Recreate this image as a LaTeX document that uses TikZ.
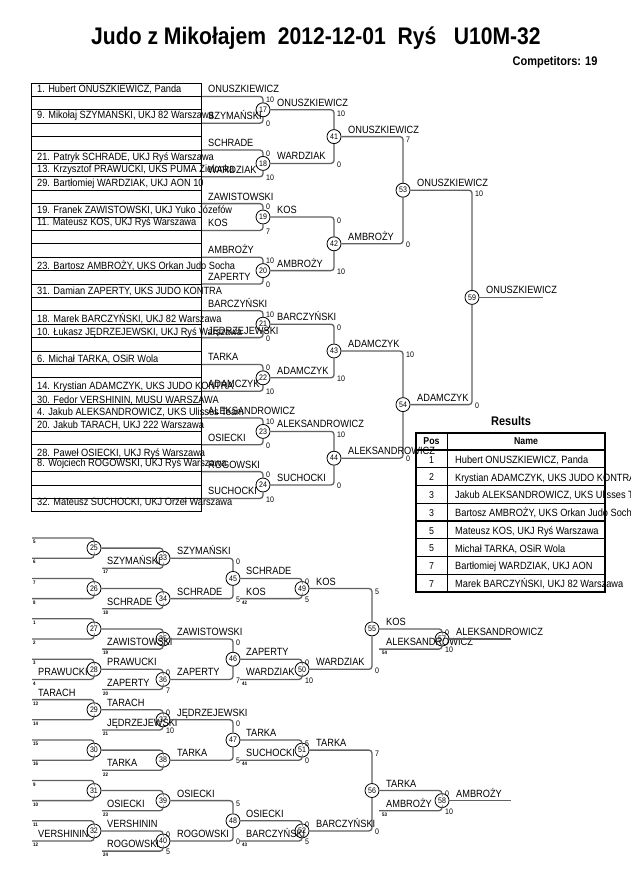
\documentclass[tikz,border=0pt]{standalone}
\usepackage{fontspec}
\setmainfont{Liberation Sans}[FakeStretch=0.88]
\usetikzlibrary{calc}
\tikzset{
  bline/.style={draw=black!62,line width=1.3pt,rounded corners=3pt},
  match/.style={circle,draw,line width=0.8pt,minimum size=14pt,inner sep=0pt,font=\fontsize{8}{9}\selectfont},
  lbl/.style={anchor=base west,inner sep=0pt,font=\fontsize{10.5}{12}\selectfont},
  score/.style={anchor=north west,inner sep=0pt,font=\fontsize{8}{9}\selectfont},
  bscore/.style={score,anchor=west},
  tiny/.style={anchor=north west,inner sep=0pt,font=\bfseries\fontsize{5}{6}\selectfont},
  rowline/.style={line width=1pt}
}
\begin{document}
\begin{tikzpicture}[x=1pt,y=-1pt]
  \useasboundingbox (0,0) rectangle (630,891);

  % heading
  \node[font=\bfseries\fontsize{24}{28}\selectfont] (title) at (316,38) {Judo z Mikołajem~~2012-12-01~~Ryś~~~U10M-32};
  \node[anchor=east,font=\bfseries\fontsize{12.5}{14}\selectfont] (count) at (601,62) {Competitors: 19};

  % list of competitors
  \draw[rowline] (31,83) rectangle (201,511.8);
  \foreach \i in {1,...,31}
    \draw[rowline] (31,83+13.4*\i) -- (201,83+13.4*\i);
  \foreach \y/\t [count=\n] in {92.8/{1. Hubert ONUSZKIEWICZ, Panda}, 118.8/{9. Mikołaj SZYMAŃSKI, UKJ 82 Warszawa},
      160.8/{21. Patryk SCHRADE, UKJ Ryś Warszawa}, 172.8/{13. Krzysztof PRAWUCKI, UKS PUMA Zielonka},
      186.8/{29. Bartłomiej WARDZIAK, UKJ AON 10}, 213.8/{19. Franek ZAWISTOWSKI, UKJ Yuko Józefów},
      225.8/{11. Mateusz KOS, UKJ Ryś Warszawa}, 269.8/{23. Bartosz AMBROŻY, UKS Orkan Judo Socha},
      294.8/{31. Damian ZAPERTY, UKS JUDO KONTRA}, 322.8/{18. Marek BARCZYŃSKI, UKJ 82 Warszawa},
      335.8/{10. Łukasz JĘDRZEJEWSKI, UKJ Ryś Warszawa}, 362.8/{6. Michał TARKA, OSiR Wola},
      389.8/{14. Krystian ADAMCZYK, UKS JUDO KONTRA}, 403.8/{30. Fedor VERSHININ, MUSU WARSZAWA},
      415.8/{4. Jakub ALEKSANDROWICZ, UKS Ulisses Team}, 428.8/{20. Jakub TARACH, UKJ 222 Warszawa},
      456.8/{28. Paweł OSIECKI, UKJ Ryś Warszawa}, 466.8/{8. Wojciech ROGOWSKI, UKJ Ryś Warszawa},
      505.8/{32. Mateusz SUCHOCKI, UKJ Orzeł Warszawa}}
    \node[lbl] (p\n) at (37,\y) {\t};

  % match circles
  \foreach \m/\x/\y in {17/263/109.8, 18/263/163.4, 19/263/217, 20/263/270.6, 21/263/324.2, 22/263/377.8,
      23/263/431.4, 24/263/485, 41/334/136.6, 42/334/243.8, 43/334/351, 44/334/458.2,
      53/403/190.2, 54/403/404.6, 59/472/297.4,
      25/94/548.1, 26/94/588.5, 27/94/628.9, 28/94/669.3, 29/94/709.7, 30/94/750.1, 31/94/790.5, 32/94/830.9,
      33/163/558.2, 34/163/598.6, 35/163/639, 36/163/679.4, 37/163/719.8, 38/163/760.2, 39/163/800.6, 40/163/841,
      45/233/578.4, 46/233/659.2, 47/233/740, 48/233/820.8,
      49/302/588.5, 50/302/669.3, 51/302/750.1, 52/302/830.9,
      55/372/628.9, 56/372/790.5, 57/442/639, 58/442/800.6}
    \node[match] (m\m) at (\x,\y) {\m};

  % first round
  \foreach \m/\na/\sa/\nb/\sb in {17/ONUSZKIEWICZ/10/SZYMAŃSKI/0, 18/SCHRADE/0/WARDZIAK/10,
      19/ZAWISTOWSKI/0/KOS/7, 20/AMBROŻY/10/ZAPERTY/0, 21/BARCZYŃSKI/10/JĘDRZEJEWSKI/0,
      22/TARKA/0/ADAMCZYK/10, 23/ALEKSANDROWICZ/10/OSIECKI/0, 24/ROGOWSKI/0/SUCHOCKI/10} {
    \coordinate (e\m a) at ($(m\m)+(-61,-13.4)$);
    \coordinate (e\m b) at ($(m\m)+(-61,13.4)$);
    \draw[bline] (e\m a) -| (m\m);
    \draw[bline] (e\m b) -| (m\m);
    \node[lbl] (n\m a) at ($(e\m a)+(6,-3.5)$) {\na};
    \node[lbl] (n\m b) at ($(e\m b)+(6,-3.5)$) {\nb};
    \node[score] (s\m a) at ($(m\m |- e\m a)+(3,0.5)$) {\sa};
    \node[bscore] (s\m b) at ($(m\m |- e\m b)+(3,1)$) {\sb};
  }

  % repechage, first round
  \foreach \m/\ta/\tb/\na/\nb in {25/5/6/{}/{}, 26/7/8/{}/{}, 27/1/2/{}/{}, 28/3/4/{}/PRAWUCKI,
      29/13/14/TARACH/{}, 30/15/16/{}/{}, 31/9/10/{}/{}, 32/11/12/{}/VERSHININ} {
    \coordinate (e\m a) at ($(m\m)+(-62,-10.1)$);
    \coordinate (e\m b) at ($(m\m)+(-62,10.1)$);
    \draw[bline] (e\m a) -| (m\m);
    \draw[bline] (e\m b) -| (m\m);
    \node[lbl] (n\m a) at ($(e\m a)+(6,-3.5)$) {\na};
    \node[lbl] (n\m b) at ($(e\m b)+(6,-3.5)$) {\nb};
    \node[tiny] (t\m a) at ($(e\m a)+(1,2)$) {\ta};
    \node[tiny] (t\m b) at ($(e\m b)+(1,2)$) {\tb};
  }

  % one line from a match, one coming in
  \foreach \m/\a/\dx/\na/\sa/\nb/\sb/\t in {33/25/-61/{}/{}/SZYMAŃSKI/{}/17, 34/26/-61/{}/{}/SCHRADE/{}/18,
      35/27/-61/{}/{}/ZAWISTOWSKI/{}/19, 36/28/-61/PRAWUCKI/0/ZAPERTY/7/20,
      37/29/-61/TARACH/0/JĘDRZEJEWSKI/10/21, 38/30/-61/{}/{}/TARKA/{}/22,
      39/31/-61/{}/{}/OSIECKI/{}/23, 40/32/-61/VERSHININ/0/ROGOWSKI/5/24} {
    \coordinate (e\m b) at ($(m\m)+(\dx,10.1)$);
    \draw[bline] (m\a) -| (m\m);
    \draw[bline] (e\m b) -| (m\m);
    \node[lbl] (n\m a) at ($(m\a)+(13,-3.5)$) {\na};
    \node[lbl] (n\m b) at ($(e\m b)+(5,-3.5)$) {\nb};
    \node[score] (s\m a) at ($(m\m |- m\a)+(3,0.5)$) {\sa};
    \node[bscore] (s\m b) at ($(m\m |- e\m b)+(3,1)$) {\sb};
    \node[tiny] (t\m) at ($(e\m b)+(1,2)$) {\t};
  }

  % two lines from matches
  \foreach \m/\a/\b/\na/\sa/\nb/\sb in {41/17/18/ONUSZKIEWICZ/10/WARDZIAK/0, 42/19/20/KOS/0/AMBROŻY/10,
      43/21/22/BARCZYŃSKI/0/ADAMCZYK/10, 44/23/24/ALEKSANDROWICZ/10/SUCHOCKI/0,
      53/41/42/ONUSZKIEWICZ/7/AMBROŻY/0, 54/43/44/ADAMCZYK/10/ALEKSANDROWICZ/0,
      59/53/54/ONUSZKIEWICZ/10/ADAMCZYK/0,
      45/33/34/SZYMAŃSKI/0/SCHRADE/5, 46/35/36/ZAWISTOWSKI/0/ZAPERTY/7,
      47/37/38/JĘDRZEJEWSKI/0/TARKA/5, 48/39/40/OSIECKI/5/ROGOWSKI/0} {
    \draw[bline] (m\a) -| (m\m);
    \draw[bline] (m\b) -| (m\m);
    \node[lbl] (n\m a) at ($(m\a)+(14,-3.5)$) {\na};
    \node[lbl] (n\m b) at ($(m\b)+(14,-3.5)$) {\nb};
    \node[score] (s\m a) at ($(m\m |- m\a)+(3,0.5)$) {\sa};
    \node[bscore] (s\m b) at ($(m\m |- m\b)+(3,1)$) {\sb};
  }

  \foreach \m/\a/\dx/\na/\sa/\nb/\sb/\t in {49/45/-62/SCHRADE/0/KOS/5/42, 50/46/-62/ZAPERTY/0/WARDZIAK/10/41,
      51/47/-62/TARKA/5/SUCHOCKI/0/44, 52/48/-62/OSIECKI/0/BARCZYŃSKI/5/43} {
    \coordinate (e\m b) at ($(m\m)+(\dx,10.1)$);
    \draw[bline] (m\a) -| (m\m);
    \draw[bline] (e\m b) -| (m\m);
    \node[lbl] (n\m a) at ($(m\a)+(13,-3.5)$) {\na};
    \node[lbl] (n\m b) at ($(e\m b)+(6,-3.5)$) {\nb};
    \node[score] (s\m a) at ($(m\m |- m\a)+(3,0.5)$) {\sa};
    \node[bscore] (s\m b) at ($(m\m |- e\m b)+(3,1)$) {\sb};
    \node[tiny] (t\m) at ($(e\m b)+(2,2)$) {\t};
  }

  \foreach \m/\a/\b/\na/\sa/\nb/\sb in {55/49/50/KOS/5/WARDZIAK/0, 56/51/52/TARKA/7/BARCZYŃSKI/0} {
    \draw[bline] (m\a) -| (m\m);
    \draw[bline] (m\b) -| (m\m);
    \node[lbl] (n\m a) at ($(m\a)+(14,-3.5)$) {\na};
    \node[lbl] (n\m b) at ($(m\b)+(14,-3.5)$) {\nb};
    \node[score] (s\m a) at ($(m\m |- m\a)+(3,0.5)$) {\sa};
    \node[bscore] (s\m b) at ($(m\m |- m\b)+(3,1)$) {\sb};
  }

  \foreach \m/\a/\dx/\na/\sa/\nb/\sb/\t in {57/55/-63/KOS/0/ALEKSANDROWICZ/10/54, 58/56/-63/TARKA/0/AMBROŻY/10/53} {
    \coordinate (e\m b) at ($(m\m)+(\dx,10.1)$);
    \draw[bline] (m\a) -| (m\m);
    \draw[bline] (e\m b) -| (m\m);
    \node[lbl] (n\m a) at ($(m\a)+(14,-3.5)$) {\na};
    \node[lbl] (n\m b) at ($(e\m b)+(7,-3.5)$) {\nb};
    \node[score] (s\m a) at ($(m\m |- m\a)+(3,0.5)$) {\sa};
    \node[bscore] (s\m b) at ($(m\m |- e\m b)+(3,1)$) {\sb};
    \node[tiny] (t\m) at ($(e\m b)+(3,2)$) {\t};
  }

  % winners
  \foreach \m/\len/\w in {59/71/ONUSZKIEWICZ, 57/69/ALEKSANDROWICZ, 58/69/AMBROŻY} {
    \coordinate (w\m) at ($(m\m)+(\len,0)$);
    \draw[bline] (m\m) -- (w\m);
    \node[lbl] (n\m w) at ($(m\m)+(14,-3.5)$) {\w};
  }

  % results
  \node[font=\bfseries\fontsize{12.5}{14}\selectfont] (restitle) at (511,421) {Results};
  \draw[line width=2pt] (416,433) rectangle (605,592);
  \foreach \i in {0,...,7}
    \draw[line width=1.2pt] (416,450+17.75*\i) -- (605,450+17.75*\i);
  \draw[line width=0.9pt] (447,433) -- (447,592);
  \node[font=\bfseries\fontsize{10}{12}\selectfont] (hpos) at (431.5,441.5) {Pos};
  \node[font=\bfseries\fontsize{10}{12}\selectfont] (hname) at (526,441.5) {Name};
  \foreach \p/\t [count=\i] in {1/{Hubert ONUSZKIEWICZ, Panda}, 2/{Krystian ADAMCZYK, UKS JUDO KONTRA},
      3/{Jakub ALEKSANDROWICZ, UKS Ulisses Team}, 3/{Bartosz AMBROŻY, UKS Orkan Judo Socha},
      5/{Mateusz KOS, UKJ Ryś Warszawa}, 5/{Michał TARKA, OSiR Wola},
      7/{Bartłomiej WARDZIAK, UKJ AON}, 7/{Marek BARCZYŃSKI, UKJ 82 Warszawa}} {
    \node[font=\fontsize{10}{12}\selectfont] (rp\i) at (431.5,441.9+17.75*\i) {\p};
    \node[lbl] (rn\i) at (455,445.6+17.75*\i) {\t};
  }
\end{tikzpicture}
\end{document}
